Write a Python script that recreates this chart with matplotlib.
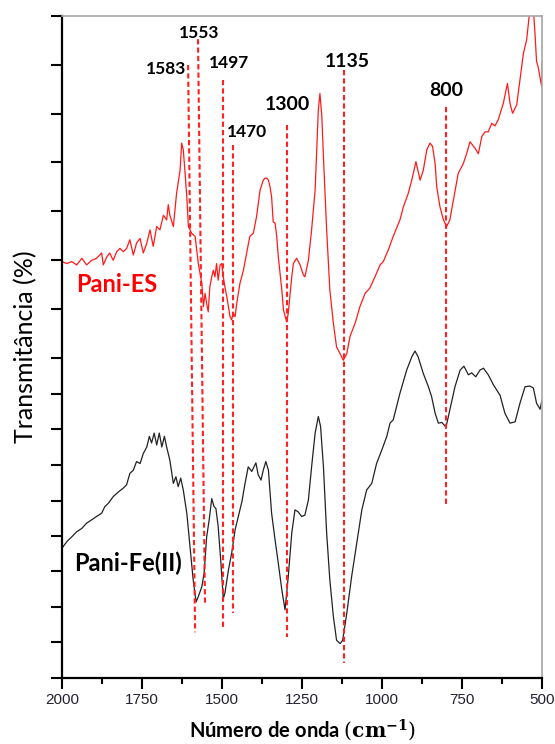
import matplotlib.pyplot as plt
from matplotlib.ticker import MultipleLocator

plt.rcParams['mathtext.fontset'] = 'dejavuserif'

# Pani-ES spectrum (red), wavenumber in cm-1, transmittance in a.u. (offset)
wn_es = [2000, 1985, 1970, 1954, 1938, 1923, 1907, 1892, 1876, 1871, 1860, 1851,
         1840, 1829, 1819, 1808, 1798, 1788, 1777, 1767, 1756, 1746, 1735, 1725,
         1715, 1704, 1694, 1683, 1673, 1668, 1663, 1652, 1642, 1631, 1626, 1621,
         1616, 1610, 1605, 1595, 1584, 1574, 1563, 1558, 1553, 1548, 1543, 1538,
         1532, 1527, 1522, 1517, 1512, 1506, 1501, 1496, 1491, 1485, 1480, 1475,
         1470, 1465, 1459, 1454, 1444, 1433, 1423, 1413, 1402, 1392, 1381, 1371,
         1366, 1360, 1355, 1350, 1345, 1340, 1334, 1329, 1324, 1313, 1308, 1298,
         1293, 1288, 1282, 1277, 1267, 1256, 1246, 1241, 1230, 1220, 1209, 1204,
         1199, 1194, 1188, 1183, 1173, 1163, 1152, 1142, 1131, 1121, 1110, 1100,
         1084, 1069, 1053, 1038, 1022, 1006, 996, 980, 965, 944, 933, 918, 907,
         894, 881, 871, 860, 850, 842, 834, 829, 819, 808, 798, 788, 777, 762,
         746, 735, 725, 709, 699, 688, 678, 668, 657, 647, 637, 621, 608, 600,
         592, 579, 569, 558, 548, 538, 527, 522, 517, 512, 501, 500]
t_es = [62.9, 62.6, 62.9, 62.4, 63.4, 62.4, 63.1, 63.4, 64.2, 62.4, 63.6, 64.2,
        63.1, 64.4, 64.9, 64.4, 64.9, 66.2, 63.9, 65.7, 66.4, 64.2, 65.7, 67.7,
        65.2, 68.2, 67.7, 69.9, 69.2, 71.5, 69.9, 68.2, 73.2, 76.7, 80.8, 79.8,
        76.7, 72.7, 68.2, 67.2, 66.7, 62.6, 59.6, 56.1, 58.1, 56.6, 55.3, 59.1,
        60.6, 61.6, 60.6, 62.6, 60.1, 62.4, 62.6, 60.6, 59.1, 57.6, 56.1, 54.6,
        54.1, 55.1, 54.6, 56.6, 59.6, 61.6, 64.2, 66.7, 67.2, 69.7, 73.7, 75.2,
        75.5, 75.5, 75.2, 74.2, 72.7, 68.9, 68.7, 66.7, 63.6, 58.6, 55.6, 53.8,
        55.1, 57.6, 60.6, 62.6, 63.4, 62.4, 60.9, 60.6, 63.1, 67.7, 73.7, 79.8,
        85.8, 88.3, 84.8, 78.7, 67.7, 58.6, 53.6, 50.0, 49.0, 48.0, 49.0, 51.6,
        53.6, 56.1, 58.1, 58.9, 60.6, 62.4, 62.9, 64.7, 66.7, 69.2, 71.2, 73.2, 75.2,
        78.0, 75.2, 76.7, 79.8, 80.8, 80.3, 77.7, 74.2, 71.2, 69.2, 68.2, 69.2, 72.2, 76.2,
        77.7, 79.3, 81.0, 80.0, 79.2, 81.8, 82.5, 82.5, 83.8, 83.4, 84.3, 86.8, 89.8, 86.8,
        85.3, 86.6, 90.3, 94.4, 96.4, 101.0, 101.0, 97.4, 93.1, 92.3, 89.3, 93.0]

# Pani-Fe(II) spectrum (black)
wn_fe = [2000, 1985, 1970, 1954, 1938, 1923, 1907, 1892, 1876, 1866, 1855, 1840,
         1824, 1808, 1798, 1788, 1777, 1767, 1756, 1746, 1735, 1727, 1720, 1712,
         1704, 1696, 1688, 1680, 1673, 1663, 1652, 1644, 1637, 1629, 1621, 1610,
         1600, 1590, 1581, 1574, 1563, 1556, 1548, 1540, 1532, 1525, 1519, 1512,
         1504, 1496, 1491, 1480, 1470, 1459, 1449, 1438, 1428, 1418, 1407, 1394,
         1387, 1378, 1371, 1363, 1355, 1345, 1334, 1324, 1313, 1303, 1293, 1282,
         1272, 1262, 1251, 1241, 1230, 1220, 1209, 1199, 1192, 1183, 1173, 1163,
         1152, 1142, 1131, 1123, 1110, 1095, 1079, 1063, 1048, 1032, 1017, 1001,
         985, 975, 965, 944, 923, 907, 897, 887, 871, 855, 845, 834, 824, 813, 800,
         788, 772, 756, 744, 730, 720, 707, 694, 683, 668, 652, 631, 616, 600, 584,
         569, 553, 538, 527, 517, 506, 500]
t_fe = [19.6, 20.6, 21.3, 22.1, 22.6, 23.4, 23.9, 24.4, 24.9, 25.9, 26.4, 27.4,
        28.1, 28.7, 29.2, 30.9, 31.4, 32.7, 32.4, 33.9, 34.9, 36.5, 35.5, 37.0,
        35.2, 37.0, 34.9, 36.5, 34.9, 32.9, 29.4, 30.4, 28.9, 30.2, 28.4, 24.9,
        19.8, 14.8, 11.5, 12.3, 13.8, 15.8, 21.3, 23.9, 27.1, 25.9, 25.6, 22.9,
        17.8, 12.0, 12.8, 16.3, 18.8, 22.4, 24.4, 26.6, 29.4, 31.9, 31.2, 32.5,
        30.7, 29.9, 31.4, 32.7, 31.4, 24.9, 20.8, 17.3, 13.3, 10.3, 15.3, 21.9,
        25.4, 25.1, 24.4, 24.6, 26.9, 31.9, 37.0, 39.5, 38.0, 31.9, 21.9, 14.8,
        9.3, 5.7, 5.2, 5.7, 9.8, 15.3, 20.3, 25.4, 28.4, 29.4, 32.4, 34.4,
        36.5, 38.5, 39.0, 43.0, 46.5, 48.5, 49.4, 48.5, 46.0, 44.0, 42.5, 40.0, 38.5, 38.6, 37.9,
        40.5, 44.0, 46.5, 47.1, 45.8, 46.1, 45.5, 46.5, 46.8, 45.8, 44.3, 42.7, 40.0, 38.5, 38.7,
        41.5, 44.0, 44.1, 43.8, 41.5, 40.6, 42.0]

# peak marker lines: labels, wavenumber at top/bottom, transmittance at top/bottom
peak_labels = ['1583', '1553', '1497', '1470', '1300', '1135', '800']
peak_wn_top = [1606, 1575, 1497, 1466, 1297, 1120, 800]
peak_wn_bot = [1584, 1553, 1497, 1466, 1297, 1120, 800]
peak_t_top = [92.6, 96.5, 90.3, 80.5, 83.5, 91.8, 86.3]
peak_t_bot = [6.9, 11.0, 7.7, 9.8, 6.2, 2.3, 26.1]
label_wn = [1675, 1572, 1478, 1422, 1297, 1109, 800]
label_t = [92.0, 97.4, 92.9, 82.5, 86.6, 93.2, 88.8]
label_size = [12.5, 12.5, 12.5, 12.5, 14, 14, 14]

ytick_vals = [0, 5.4, 10.7, 16.1, 21.5, 26.8, 32.2, 37.6, 42.9, 48.3,
              55.7, 63.1, 70.5, 77.9, 85.2, 92.6, 100]

fig = plt.figure(figsize=(5.55, 7.44), dpi=100)
ax = fig.add_axes([0.1117, 0.0887, 0.8649, 0.8898])

ax.plot(wn_es, t_es, color='#ff1a1a', lw=0.9)
ax.plot(wn_fe, t_fe, color='#222222', lw=0.9)

for wt, wb, tt, tb in zip(peak_wn_top, peak_wn_bot, peak_t_top, peak_t_bot):
    ax.plot([wt, wb], [tt, tb], color='#ff2020', lw=1.5, dashes=(2.5, 1.5))

for lab, w, t, s in zip(peak_labels, label_wn, label_t, label_size):
    ax.text(w, t, lab, fontsize=s, fontweight='bold', family='Lato',
            ha='center', va='center', color='black')

ax.text(1828, 59.4, 'Pani-ES', color='#ff0000', fontsize=17, fontweight='bold',
        family='Lato', ha='center', va='center')
ax.text(1794, 17.4, 'Pani-Fe(II)', color='black', fontsize=17, fontweight='bold',
        family='Lato', ha='center', va='center')

ax.set_xlim(2000, 500)
ax.set_ylim(0, 100)
ax.set_xticks([2000, 1750, 1500, 1250, 1000, 750, 500])
ax.xaxis.set_minor_locator(MultipleLocator(125))
ax.set_yticks(ytick_vals)
ax.set_yticklabels([])
ax.tick_params(axis='x', which='major', length=8, width=1.5, direction='out',
               labelsize=11, labelcolor='#222233', pad=3)
ax.tick_params(axis='x', which='minor', length=4, width=1.5, direction='out')
ax.tick_params(axis='y', length=8, width=1.5, direction='out')
for lbl in ax.get_xticklabels():
    lbl.set_family('Liberation Sans')

for side in ['left', 'bottom']:
    ax.spines[side].set_linewidth(1.6)
    ax.spines[side].set_color('black')
for side in ['top', 'right']:
    ax.spines[side].set_linewidth(1.2)
    ax.spines[side].set_color('#a6a6a6')

ax.set_ylabel('Transmitância (%)', fontsize=18, family='Lato', labelpad=6)
ax.set_xlabel(r'Número de onda $\left(\mathbf{cm^{-1}}\right)$', fontsize=14.5,
              fontweight='bold', family='Lato', labelpad=7)

fig.savefig('out.png', dpi=100)
